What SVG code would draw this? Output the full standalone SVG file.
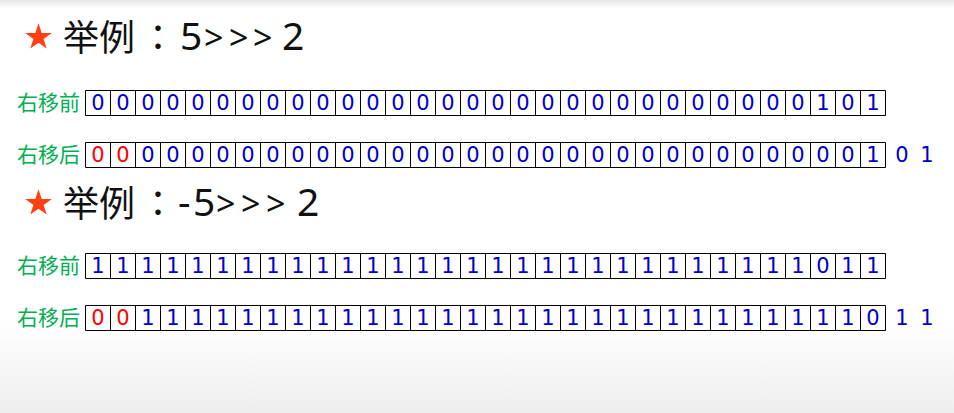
<svg xmlns="http://www.w3.org/2000/svg" width="954" height="413" viewBox="0 0 954 413">
<defs>
<linearGradient id="bg" x1="0" y1="0" x2="0" y2="1">
<stop offset="0" stop-color="#e6e6e6"/>
<stop offset="0.02" stop-color="#ffffff"/>
<stop offset="0.78" stop-color="#ffffff"/>
<stop offset="1" stop-color="#eeeeee"/>
</linearGradient>
<path id="star" d="M0,-14 L3.2,-4.4 L13.3,-4.3 L5.1,1.7 L8.2,11.3 L0,5.4 L-8.2,11.3 L-5.1,1.7 L-13.3,-4.3 L-3.2,-4.4 Z" fill="#ff4010"/>
<path id="grid" d="M0,0 H800 V25 H0 Z M25,0 V25 M50,0 V25 M75,0 V25 M100,0 V25 M125,0 V25 M150,0 V25 M175,0 V25 M200,0 V25 M225,0 V25 M250,0 V25 M275,0 V25 M300,0 V25 M325,0 V25 M350,0 V25 M375,0 V25 M400,0 V25 M425,0 V25 M450,0 V25 M475,0 V25 M500,0 V25 M525,0 V25 M550,0 V25 M575,0 V25 M600,0 V25 M625,0 V25 M650,0 V25 M675,0 V25 M700,0 V25 M725,0 V25 M750,0 V25 M775,0 V25" fill="#ffffff" stroke="#000000" stroke-width="1"/>
</defs>
<style>
.title{font-family:"Noto Sans","Noto Sans CJK SC",sans-serif;font-size:39px;fill:#111111}
.gt{font-size:34px}
.cjk{font-family:"Noto Sans CJK SC",sans-serif;font-size:36px}
.colon{font-family:"Noto Sans CJK TC",sans-serif;font-size:36px}
.lbl{font-family:"Noto Sans CJK SC",sans-serif;font-size:21px;fill:#00b050}
.d{font-family:"DejaVu Sans",Verdana,sans-serif;font-size:21px;fill:#0000cc;text-anchor:middle}
.r{fill:#ff0000}
</style>
<rect x="0" y="0" width="954" height="413" fill="url(#bg)"/>

<g id="title1">
<use href="#star" x="38.5" y="37.3"/>
<text class="title cjk" x="63" y="51">举例</text>
<text class="title colon" x="140" y="51">：</text>
<text class="title" x="180" y="50">5</text>
<text class="title gt" x="204" y="50">&gt;</text>
<text class="title gt" x="229" y="50">&gt;</text>
<text class="title gt" x="253" y="50">&gt;</text>
<text class="title" x="282" y="50">2</text>
</g>

<g id="row1">
<text class="lbl" x="17" y="110">右移前</text>
<use href="#grid" x="85.5" y="90.5"/>
<text class="d" y="110" x="98 123 148 173 198 223 248 273 298 323 348 373 398 423 448 473 498 523 548 573 598 623 648 673 698 723 748 773 798 823 848 873">00000000000000000000000000000101</text>
</g>

<g id="row2">
<text class="lbl" x="17" y="162">右移后</text>
<use href="#grid" x="85.5" y="142.5"/>
<text class="d r" y="162" x="98 123">00</text>
<text class="d" y="162" x="148 173 198 223 248 273 298 323 348 373 398 423 448 473 498 523 548 573 598 623 648 673 698 723 748 773 798 823 848 873">000000000000000000000000000001</text>
<text class="d" y="162" x="902 927">01</text>
</g>

<g id="title2">
<use href="#star" x="38.5" y="203.3"/>
<text class="title cjk" x="63" y="217">举例</text>
<text class="title colon" x="140" y="217">：</text>
<text class="title" x="178" y="216">-</text>
<text class="title" x="193" y="216">5</text>
<text class="title gt" x="216" y="216">&gt;</text>
<text class="title gt" x="241" y="216">&gt;</text>
<text class="title gt" x="266" y="216">&gt;</text>
<text class="title" x="297" y="216">2</text>
</g>

<g id="row3">
<text class="lbl" x="17" y="273">右移前</text>
<use href="#grid" x="85.5" y="253.5"/>
<text class="d" y="273" x="98 123 148 173 198 223 248 273 298 323 348 373 398 423 448 473 498 523 548 573 598 623 648 673 698 723 748 773 798 823 848 873">11111111111111111111111111111011</text>
</g>

<g id="row4">
<text class="lbl" x="17" y="325">右移后</text>
<use href="#grid" x="85.5" y="305.5"/>
<text class="d r" y="325" x="98 123">00</text>
<text class="d" y="325" x="148 173 198 223 248 273 298 323 348 373 398 423 448 473 498 523 548 573 598 623 648 673 698 723 748 773 798 823 848 873">111111111111111111111111111110</text>
<text class="d" y="325" x="902 927">11</text>
</g>

<g id="connectors"/>
</svg>
